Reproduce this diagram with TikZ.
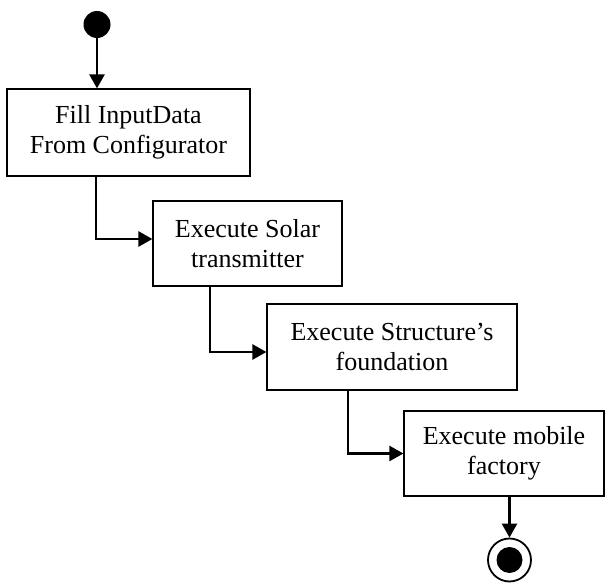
\documentclass[tikz,border=0pt]{standalone}
\usepackage{fontspec}
\setmainfont{Liberation Serif}
\usetikzlibrary{arrows.meta}

\begin{document}
\begin{tikzpicture}[x=1pt,y=-1pt,
	act/.style={draw,line width=1.2pt,align=center,inner sep=0pt,font=\fontsize{26}{30}\selectfont},
	dot/.style={circle,fill,inner sep=0pt},
	flow/.style={line width=2.5pt,-{Triangle[length=14pt,width=15pt]}}]
\useasboundingbox (0,0) rectangle (606,583);
\node [dot,minimum size=27pt] (start) at (97,24.5) {};
\node [act,minimum width=243pt,minimum height=87pt] (fill) at (128.5,132.5) {Fill InputData\\From Configurator};
\node [act,minimum width=189pt,minimum height=85pt] (solar) at (247.5,243.5) {Execute Solar\\transmitter};
\node [act,minimum width=250pt,minimum height=86pt] (found) at (392,347) {Execute Structure’s\\foundation};
\node [act,minimum width=200pt,minimum height=85pt] (factory) at (504,453.5) {Execute mobile\\factory};
\node [circle,draw,line width=1.8pt,minimum size=43pt,inner sep=0pt] (stop) at (509.5,560) {};
\node [dot,minimum size=26pt] (stopdot) at (stop) {};

\draw [flow] (start) -- (start |- fill.north);
\draw [flow] ([xshift=-32.5pt]fill.south) |- ([yshift=4.5pt]solar.west);
\draw [flow] ([xshift=-37.5pt]solar.south) |- ([yshift=-5pt]found.west);
\draw [flow] ([xshift=-44pt]found.south) |- (factory.west);
\draw [flow] (stop |- factory.south) -- (stop);
\end{tikzpicture}
\end{document}
